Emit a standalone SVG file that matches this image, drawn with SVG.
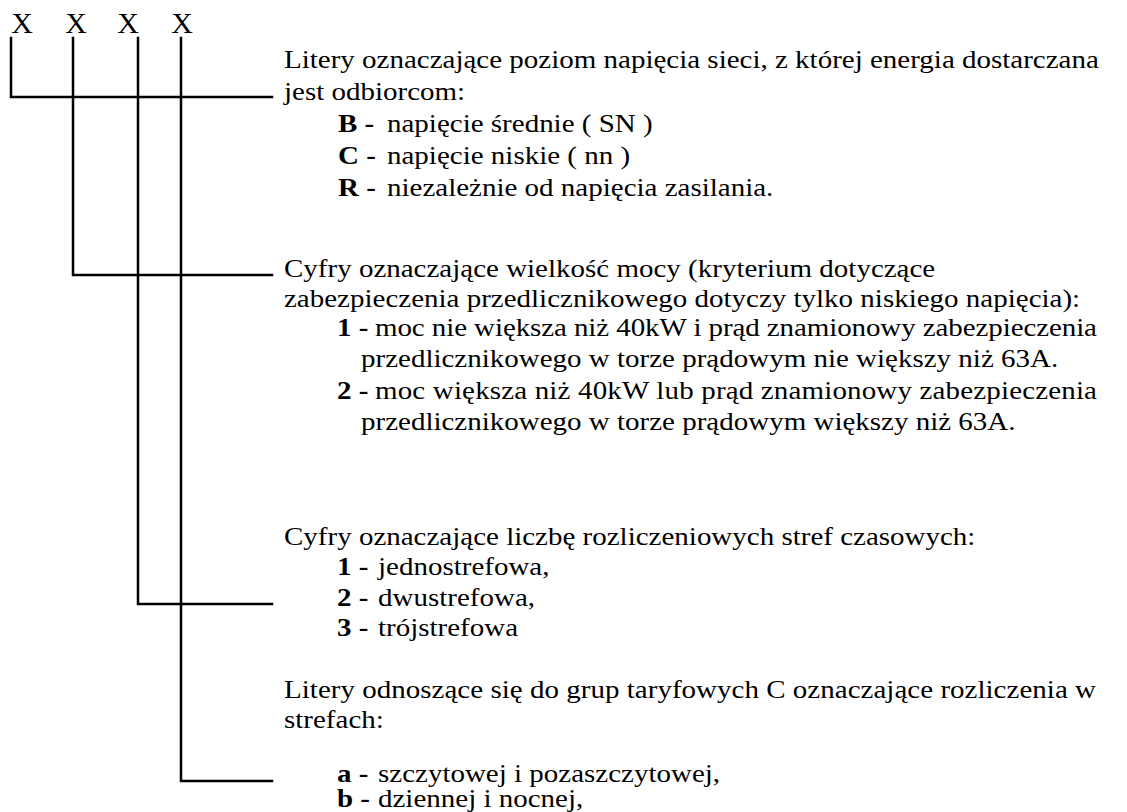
<svg xmlns="http://www.w3.org/2000/svg" width="1127" height="812" viewBox="0 0 1127 812">
<style>
text { font-family: "Liberation Serif", "Times New Roman", serif; font-size: 29px; fill: #000; }
.x { font-size: 30px; text-anchor: middle; }
.b { font-weight: bold; }
.conn { fill: none; stroke: #000; stroke-width: 2.5; stroke-linecap: square; stroke-linejoin: miter; }
</style>
<rect width="1127" height="812" fill="#fff"/>
<g id="code">
<text class="x" x="22" y="33">X</text>
<text class="x" x="76" y="33">X</text>
<text class="x" x="128" y="33">X</text>
<text class="x" x="182" y="33">X</text>
</g>
<g id="connectors">
<path class="conn" d="M11 38 V97 H272"/>
<path class="conn" d="M73 38 V275 H272"/>
<path class="conn" d="M138 38 V604 H272"/>
<path class="conn" d="M181 38 V781 H272"/>
</g>
<g id="voltage">
<text transform="matrix(1 0 0 0.85 284 68)">Litery oznaczające poziom napięcia sieci, z której energia dostarczana</text>
<text transform="matrix(1 0 0 0.85 284 100)">jest odbiorcom:</text>
<text class="b" transform="matrix(1 0 0 0.85 338 132)">B -</text>
<text transform="matrix(1 0 0 0.85 387 132)">napięcie średnie ( SN )</text>
<text class="b" transform="matrix(1 0 0 0.85 338 164)">C -</text>
<text transform="matrix(1 0 0 0.85 387 164)">napięcie niskie ( nn )</text>
<text class="b" transform="matrix(1 0 0 0.85 338 196)">R -</text>
<text transform="matrix(1 0 0 0.85 387 196)">niezależnie od napięcia zasilania.</text>
</g>
<g id="power">
<text transform="matrix(1 0 0 0.85 284 277)">Cyfry oznaczające wielkość mocy (kryterium dotyczące</text>
<text transform="matrix(1 0 0 0.85 284 307)">zabezpieczenia przedlicznikowego dotyczy tylko niskiego napięcia):</text>
<text class="b" transform="matrix(1 0 0 0.85 337 336)">1 -</text>
<text transform="matrix(1 0 0 0.85 375 336)" textLength="722" lengthAdjust="spacing">moc nie większa niż 40kW i prąd znamionowy zabezpieczenia</text>
<text transform="matrix(1 0 0 0.85 361 367)">przedlicznikowego w torze prądowym nie większy niż 63A.</text>
<text class="b" transform="matrix(1 0 0 0.85 337 399)">2 -</text>
<text transform="matrix(1 0 0 0.85 375 399)" textLength="722" lengthAdjust="spacing">moc większa niż 40kW lub prąd znamionowy zabezpieczenia</text>
<text transform="matrix(1 0 0 0.85 361 430)">przedlicznikowego w torze prądowym większy niż 63A.</text>
</g>
<g id="zones">
<text transform="matrix(1 0 0 0.85 284 545)">Cyfry oznaczające liczbę rozliczeniowych stref czasowych:</text>
<text class="b" transform="matrix(1 0 0 0.85 337 575)">1 -</text>
<text transform="matrix(1 0 0 0.85 378 575)">jednostrefowa,</text>
<text class="b" transform="matrix(1 0 0 0.85 337 606)">2 -</text>
<text transform="matrix(1 0 0 0.85 378 606)">dwustrefowa,</text>
<text class="b" transform="matrix(1 0 0 0.85 337 636)">3 -</text>
<text transform="matrix(1 0 0 0.85 378 636)">trójstrefowa</text>
</g>
<g id="tariff">
<text transform="matrix(1 0 0 0.85 284 698)" textLength="812" lengthAdjust="spacing">Litery odnoszące się do grup taryfowych C oznaczające rozliczenia w</text>
<text transform="matrix(1 0 0 0.85 284 728)">strefach:</text>
<text class="b" transform="matrix(1 0 0 0.85 337 782)">a -</text>
<text transform="matrix(1 0 0 0.85 378 782)">szczytowej i pozaszczytowej,</text>
<text class="b" transform="matrix(1 0 0 0.85 337 807)">b -</text>
<text transform="matrix(1 0 0 0.85 378 807)">dziennej i nocnej,</text>
</g>
</svg>
